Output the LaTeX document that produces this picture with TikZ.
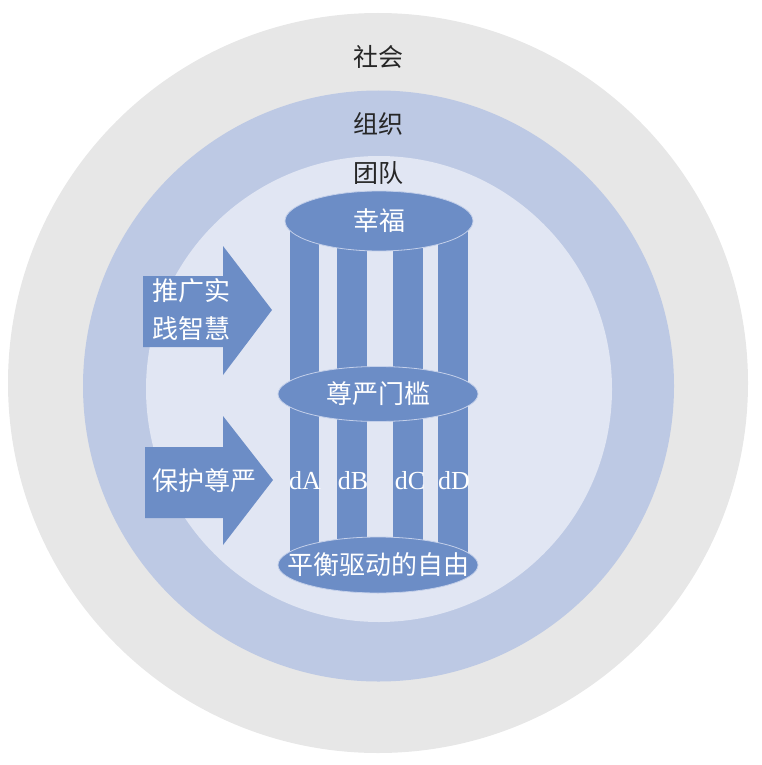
\documentclass[tikz,border=0pt]{standalone}
\usepackage{fontspec}
\setmainfont{Liberation Serif}
\newfontfamily\cjk{Noto Sans CJK SC}
\usetikzlibrary{shapes.geometric}
\definecolor{ringgray}{RGB}{231,231,231}
\definecolor{ringmid}{RGB}{189,201,228}
\definecolor{ringin}{RGB}{225,230,243}
\definecolor{shapeblue}{RGB}{108,141,198}
\definecolor{edgeblue}{RGB}{196,208,234}
\definecolor{labeltext}{RGB}{38,38,38}
\tikzset{
  ring/.style={circle, inner sep=0pt, minimum size=#1},
  bar/.style={fill=shapeblue, draw=none},
  disc/.style={ellipse, fill=shapeblue, draw=edgeblue, line width=0.8pt, inner sep=0pt},
  lvl/.style={font=\cjk\fontsize{25}{28}\selectfont, text=labeltext},
  wtxt/.style={font=\cjk\fontsize{26}{30}\selectfont, text=white},
  dtxt/.style={font=\fontsize{26}{28}\selectfont, text=white, inner sep=0pt},
  arrowshape/.style={fill=shapeblue, draw=none}
}
\begin{document}
\begin{tikzpicture}[x=1pt, y=-1pt]
\useasboundingbox (0,0) rectangle (762,765);
% rings
\node[ring=740pt, fill=ringgray] (society) at (378,383) {};
\node[ring=591pt, fill=ringmid] (org) at (378.5,386) {};
\node[ring=466pt, fill=ringin] (team) at (379,389) {};
\node[lvl] (lsociety) at (378,57) {社会};
\node[lvl] (lorg) at (378,124) {组织};
\node[lvl] (lteam) at (378,173) {团队};
% pillars
\fill[bar] (290,221) rectangle (319,560);
\fill[bar] (337,221) rectangle (367,560);
\fill[bar] (393,221) rectangle (423,560);
\fill[bar] (438,221) rectangle (468,560);
% discs
\node[disc, minimum width=188pt, minimum height=60pt] (happy) at (379,221) {};
\node[wtxt] at (happy.center) {幸福};
\node[disc, minimum width=200pt, minimum height=55pt] (dignity) at (378,394) {};
\node[wtxt] at (dignity.center) {尊严门槛};
\node[disc, minimum width=200pt, minimum height=56pt] (freedom) at (378,565) {};
\node[wtxt, inner sep=0pt] at (freedom.center) {平衡驱动的自由};
% pillar labels
\node[dtxt] (dA) at (305,481) {dA};
\node[dtxt] (dB) at (353,481) {dB};
\node[dtxt] (dC) at (410,481) {dC};
\node[dtxt] (dD) at (454,481) {dD};
% arrows
\fill[arrowshape] (143,276) -- (223,276) -- (223,246) -- (272,310) -- (223,375) -- (223,347) -- (143,347) -- cycle;
\node[wtxt, align=left, anchor=west, inner sep=0pt, font=\cjk\fontsize{26}{38}\selectfont] (promote) at (152,310) {推广实\\践智慧};
\fill[arrowshape] (145,447) -- (223,447) -- (223,416) -- (273,480) -- (223,545) -- (223,518) -- (145,518) -- cycle;
\node[wtxt, inner sep=0pt] (protect) at (204,481) {保护尊严};
\end{tikzpicture}
\end{document}
